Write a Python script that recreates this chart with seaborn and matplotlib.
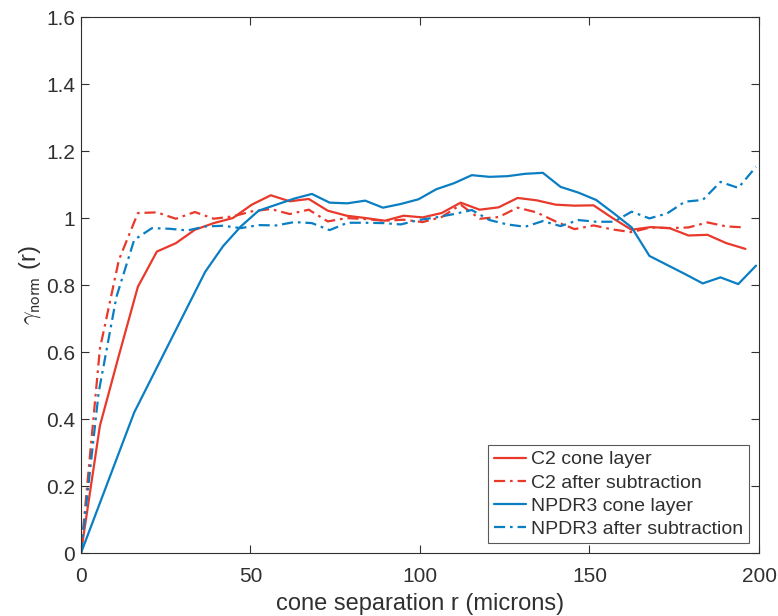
import numpy as np
import pandas as pd
import matplotlib
matplotlib.use("Agg")
import matplotlib.pyplot as plt
import seaborn as sns

# ── Data ────────────────────────────────────────────────────────────────────
R_C2 = np.arange(36) * 5.6          # C2 sampling (microns)
R_NPDR3 = np.arange(39) * 5.24      # NPDR3 sampling (microns)

C2_CONE = [0, 0.38, 0.59, 0.795, 0.90, 0.925, 0.965, 0.985, 1.0, 1.04,
           1.068, 1.05, 1.057, 1.022, 1.007, 1.0, 0.992, 1.007, 1.002, 1.015,
           1.046, 1.025, 1.032, 1.06, 1.053, 1.04, 1.037, 1.038, 1.0, 0.965,
           0.973, 0.97, 0.948, 0.95, 0.925, 0.908]
C2_SUB = [0, 0.61, 0.875, 1.015, 1.017, 0.998, 1.018, 0.998, 1.005, 1.02,
          1.027, 1.012, 1.025, 0.99, 1.0, 0.997, 0.992, 0.995, 0.988, 1.003,
          1.04, 0.998, 1.003, 1.031, 1.017, 0.99, 0.967, 0.978, 0.966, 0.958,
          0.972, 0.97, 0.972, 0.987, 0.975, 0.972]
NPDR3_CONE = [0, 0.14, 0.28, 0.42, 0.525, 0.63, 0.735, 0.84, 0.916, 0.975,
              1.022, 1.04, 1.058, 1.072, 1.046, 1.044, 1.052, 1.031, 1.042, 1.056,
              1.086, 1.104, 1.128, 1.123, 1.125, 1.132, 1.135, 1.093, 1.076, 1.054,
              1.014, 0.972, 0.887, 0.86, 0.833, 0.805, 0.823, 0.803, 0.858]
NPDR3_SUB = [0, 0.48, 0.765, 0.935, 0.97, 0.968, 0.963, 0.975, 0.977, 0.97,
             0.979, 0.978, 0.988, 0.985, 0.964, 0.986, 0.986, 0.985, 0.981, 0.994,
             1.002, 1.012, 1.024, 0.994, 0.981, 0.974, 0.991, 0.976, 0.994, 0.989,
             0.989, 1.019, 0.999, 1.014, 1.049, 1.054, 1.108, 1.09, 1.153]

LABELS = ["C2 cone layer", "C2 after subtraction",
          "NPDR3 cone layer", "NPDR3 after subtraction"]

RED = "#E8392B"
BLUE = "#0A7EC2"
DASHDOT = (0, (5, 2.2, 1.2, 2.2))

series = [
    (R_C2, C2_CONE, LABELS[0], RED, "-"),
    (R_C2, C2_SUB, LABELS[1], RED, DASHDOT),
    (R_NPDR3, NPDR3_CONE, LABELS[2], BLUE, "-"),
    (R_NPDR3, NPDR3_SUB, LABELS[3], BLUE, DASHDOT),
]

# ── Style ───────────────────────────────────────────────────────────────────
sns.set_style("ticks")
plt.rcParams["font.family"] = ["Liberation Sans", "DejaVu Sans"]
plt.rcParams["mathtext.fontset"] = "cm"
AX_COL = "#303030"

fig = plt.figure(figsize=(7.78, 6.16), dpi=100)
ax = fig.add_axes([0.104, 0.102, 0.8716, 0.8704])

for x, y, lab, col, ls in series:
    df = pd.DataFrame({"r": x, "g": y})
    sns.lineplot(data=df, x="r", y="g", ax=ax, color=col, linewidth=1.6,
                 linestyle=ls, label=lab)

ax.set_xlim(0, 200)
ax.set_ylim(0, 1.6)
ax.set_xticks([0, 50, 100, 150, 200])
ax.set_yticks(np.arange(0, 1.61, 0.2))
ax.set_yticklabels(["0", "0.2", "0.4", "0.6", "0.8", "1", "1.2", "1.4", "1.6"])

for sp in ax.spines.values():
    sp.set_visible(True)
    sp.set_color(AX_COL)
    sp.set_linewidth(0.8)
ax.tick_params(direction="in", top=True, right=True, length=6, width=0.8,
               colors=AX_COL, labelsize=15, labelcolor=AX_COL, pad=4)
ax.tick_params(axis="x", pad=10)

ax.set_xlabel("cone separation r (microns)", fontsize=17, color=AX_COL, labelpad=5)
ax.set_ylabel(r"$\gamma_{\mathsf{norm}}$ (r)", fontsize=17, color=AX_COL, labelpad=2)

leg = ax.legend(loc="lower right", fontsize=14, frameon=True, fancybox=False,
                edgecolor=AX_COL, handlelength=1.65, handletextpad=0.26,
                borderpad=0.3, labelspacing=0.28, borderaxespad=0.5)
leg.get_frame().set_linewidth(0.8)
for t in leg.get_texts():
    t.set_color(AX_COL)

fig.savefig("out.png", dpi=100)
